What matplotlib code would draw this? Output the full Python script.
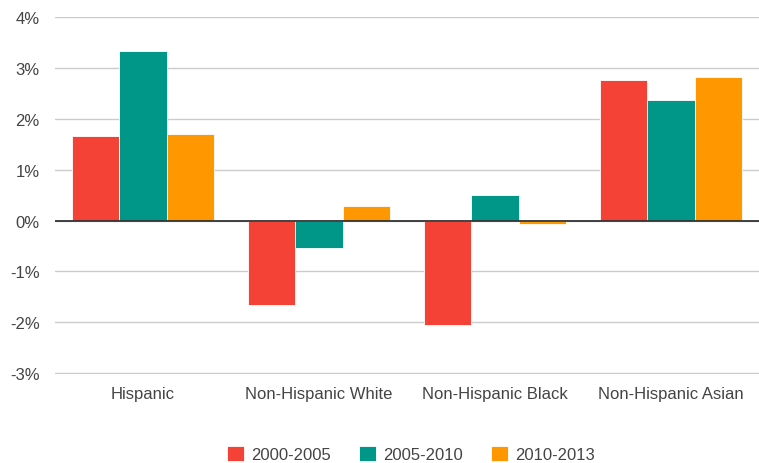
import numpy as np
import matplotlib.pyplot as plt
from matplotlib.ticker import FuncFormatter

plt.rcParams['font.family'] = ['Liberation Sans', 'DejaVu Sans']

groups = ["Hispanic", "Non-Hispanic White", "Non-Hispanic Black", "Non-Hispanic Asian"]
periods = ["2000-2005", "2005-2010", "2010-2013"]
growth_2000_2005 = [1.65, -1.65, -2.05, 2.75]
growth_2005_2010 = [3.33, -0.53, 0.51, 2.37]
growth_2010_2013 = [1.69, 0.29, -0.07, 2.82]
colors = ["#F44336", "#009688", "#FF9800"]

fig = plt.figure(figsize=(7.59, 4.64), dpi=100)
ax = fig.add_axes([0.0725, 0.192, 0.9275, 0.770])

x = np.arange(len(groups))
w = 0.27
series = [growth_2000_2005, growth_2005_2010, growth_2010_2013]
for i, (vals, c, lab) in enumerate(zip(series, colors, periods)):
    ax.bar(x + (i - 1) * w, vals, width=w, color=c, label=lab,
           edgecolor="white", linewidth=0.6, zorder=2)

ax.set_xlim(-0.5, 3.5)
ax.set_ylim(-3.01, 4)
ax.set_yticks(range(-3, 5))
ax.yaxis.set_major_formatter(FuncFormatter(lambda v, p: f"{int(v)}%"))
ax.grid(axis="y", color="#cccccc", linewidth=1, zorder=0)
ax.axhline(0, color="#333333", linewidth=1.3, zorder=3)
for s in ax.spines.values():
    s.set_visible(False)
ax.tick_params(length=0, labelsize=12, labelcolor="#444444")
ax.tick_params(axis="y", pad=11)
ax.tick_params(axis="x", pad=9)
ax.set_xticks(x)
ax.set_xticklabels(groups)

ax.legend(loc="center", bbox_to_anchor=(0.506, -0.225), ncol=3, frameon=False,
          fontsize=12, labelcolor="#444444", handlelength=1.02, handleheight=1.02,
          columnspacing=1.7, handletextpad=0.42)

fig.savefig("out.png", dpi=100)
